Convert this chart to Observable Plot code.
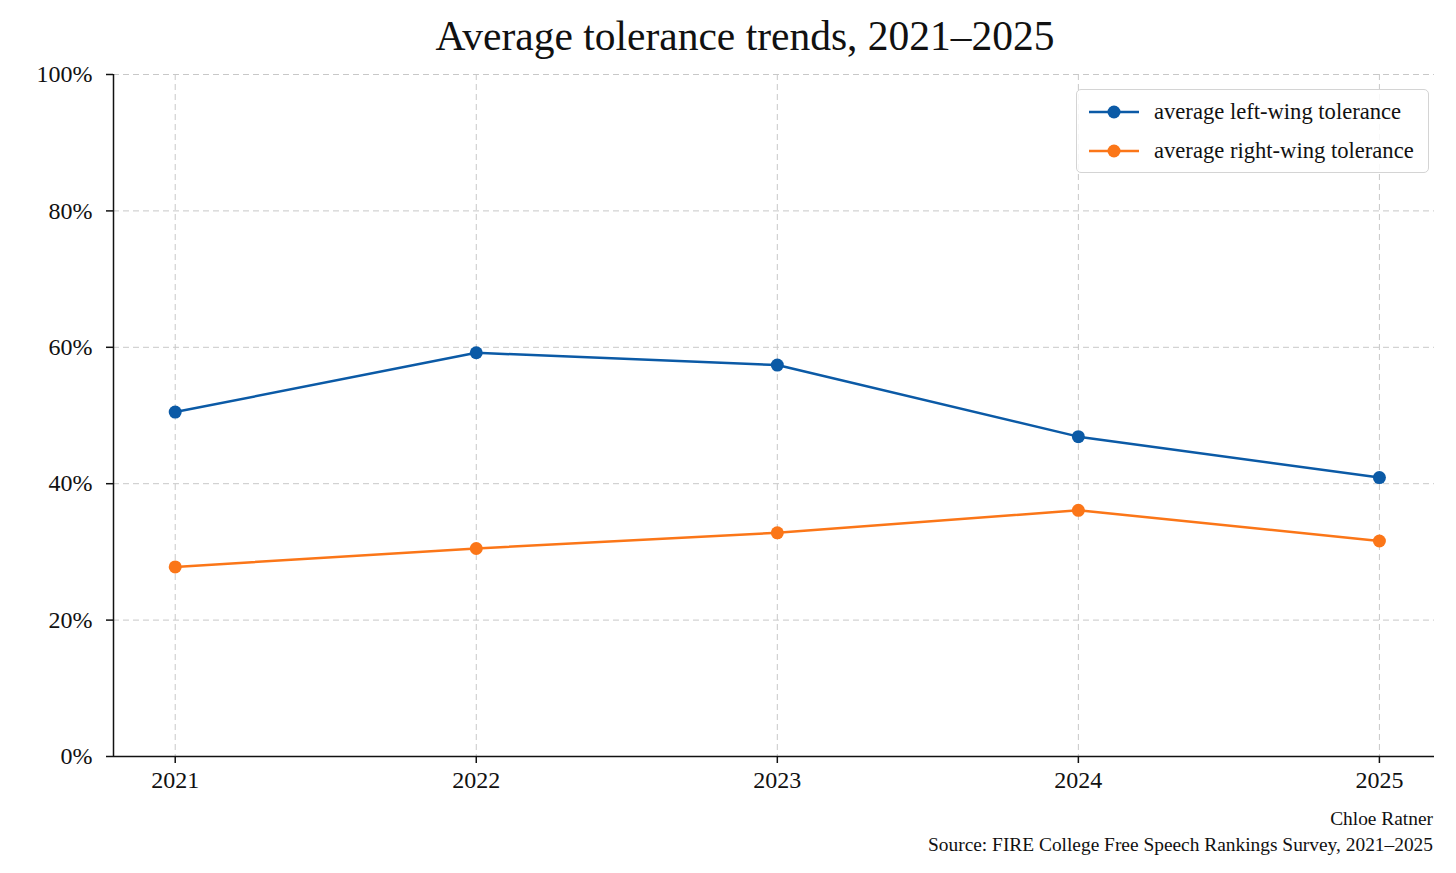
<!DOCTYPE html>
<html>
<head>
<meta charset="utf-8">
<script src="https://cdn.jsdelivr.net/npm/d3@7"></script>
<script src="https://cdn.jsdelivr.net/npm/@observablehq/plot@0.6"></script>
<style>
  html, body { margin: 0; padding: 0; background: #fff; }
  body { font-family: "Liberation Serif", "DejaVu Serif", serif; color: #111; }
  #wrap { position: relative; width: 1456px; height: 873px; overflow: hidden; }
  #title { position: absolute; left: 0; top: 15px; width: 1490px; text-align: center;
           font-size: 41.5px; line-height: 42px; white-space: nowrap; }
  #chart { position: absolute; left: 0; top: 60px; }
  #legend { position: absolute; left: 1076px; top: 89px; width: 351px; height: 82px;
            border: 1.5px solid #d4d4d4; border-radius: 5px; background: rgba(255,255,255,0.85); }
  .row { position: absolute; left: 0; height: 30px; display: flex; align-items: center; }
  .row svg { margin-left: 12px; }
  .row span { margin-left: 15px; font-size: 22.6px; white-space: nowrap; }
  #caption { position: absolute; right: 23px; top: 806px; text-align: right; font-size: 19.4px; line-height: 26px; }
</style>
</head>
<body>
<div id="wrap">
  <div id="title">Average tolerance trends, 2021–2025</div>
  <div id="chart"></div>
  <div id="legend"></div>
  <div id="caption"><div>Chloe Ratner</div><div>Source: FIRE College Free Speech Rankings Survey, 2021–2025</div></div>
</div>
<script>
// ---- data ----
const years = [2021, 2022, 2023, 2024, 2025];
const leftWing = [50.5, 59.2, 57.4, 46.9, 40.9];
const rightWing = [27.8, 30.5, 32.8, 36.1, 31.6];
const seriesNames = ["average left-wing tolerance", "average right-wing tolerance"];
const seriesColors = ["#0b5aa6", "#fb7618"];
const yTicks = [0, 20, 40, 60, 80, 100];

const table = [];
years.forEach((y, i) => {
  table.push({year: y, value: leftWing[i], series: seriesNames[0]});
  table.push({year: y, value: rightWing[i], series: seriesNames[1]});
});

const xDomain = [2020.795, 2025.183];

const plot = Plot.plot({
  width: 1456,
  height: 740,
  marginLeft: 113,
  marginRight: 22,
  marginTop: 14,
  marginBottom: 44,
  style: { fontFamily: "'Liberation Serif', 'DejaVu Serif', serif", fontSize: "24px", color: "#111", background: "transparent" },
  x: { domain: xDomain, label: null },
  y: { domain: [0, 100], label: null },
  color: { domain: seriesNames, range: seriesColors },
  marks: [
    Plot.gridX(years, { stroke: "#c8c8c8", strokeOpacity: 1, strokeWidth: 1, strokeDasharray: "6,4" }),
    Plot.gridY(yTicks, { stroke: "#c8c8c8", strokeOpacity: 1, strokeWidth: 1, strokeDasharray: "6,4" }),
    Plot.axisX(years, { tickSize: 7, tickPadding: 7, tickFormat: d => String(d), strokeWidth: 1.5, fontSize: 24, label: null }),
    Plot.axisY(yTicks, { tickSize: 7, tickPadding: 14, tickFormat: d => d + "%", strokeWidth: 1.5, fontSize: 24, label: null }),
    Plot.ruleX([xDomain[0]], { stroke: "#111", strokeWidth: 1.5 }),
    Plot.ruleY([0], { stroke: "#111", strokeWidth: 1.5 }),
    Plot.line(table, { x: "year", y: "value", z: "series", stroke: "series", strokeWidth: 2.5 }),
    Plot.dot(table, { x: "year", y: "value", fill: "series", r: 6.5, stroke: "none" })
  ]
});
document.getElementById("chart").appendChild(plot);

// ---- legend ----
const legend = document.getElementById("legend");
seriesNames.forEach((name, i) => {
  const row = document.createElement("div");
  row.className = "row";
  row.style.top = (7 + i * 39) + "px";
  const c = seriesColors[i];
  row.innerHTML = `<svg width="50" height="20"><line x1="0" y1="10" x2="50" y2="10" stroke="${c}" stroke-width="2.5"/><circle cx="25" cy="10" r="6.5" fill="${c}"/></svg><span>${name}</span>`;
  legend.appendChild(row);
});
</script>
</body>
</html>
